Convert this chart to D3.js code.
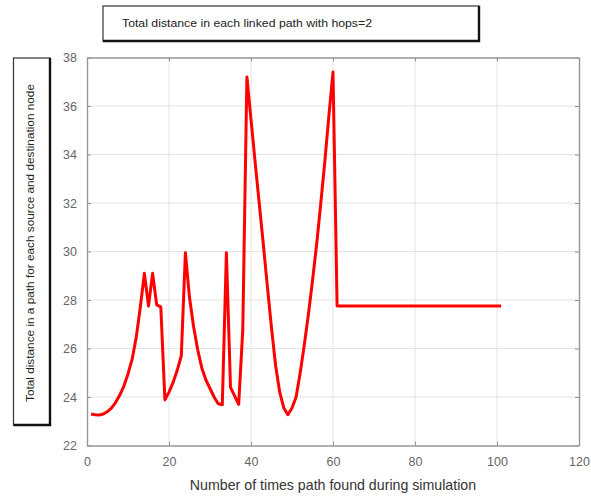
<!DOCTYPE html>
<html>
<head>
<meta charset="utf-8">
<script src="https://cdn.jsdelivr.net/npm/d3@7"></script>
<style>
  body { margin: 0; background: #fff; }
  svg { display: block; }
</style>
</head>
<body>
<div id="chart"></div>
<script>
// data
const pathCount = [1, 2, 3, 4, 5, 6, 7, 8, 9, 10,
  11, 12, 13, 14, 15, 16, 17, 18, 19, 20,
  21, 22, 23, 24, 25, 26, 27, 28, 29, 30,
  31, 32, 33, 34, 35, 36, 37, 38, 39, 40,
  41, 42, 43, 44, 45, 46, 47, 48, 49, 50,
  51, 52, 53, 54, 55, 56, 57, 58, 59, 60,
  61, 101];
const totalDistance = [23.30, 23.27, 23.26, 23.30, 23.40, 23.55, 23.78, 24.08, 24.45, 24.95,
  25.55, 26.45, 27.70, 29.10, 27.75, 29.10, 27.80, 27.72, 23.88, 24.20,
  24.60, 25.10, 25.70, 29.95, 28.10, 26.90, 25.95, 25.20, 24.70, 24.35,
  24.00, 23.72, 23.68, 29.95, 24.40, 24.05, 23.70, 26.80, 37.20, 35.45,
  33.70, 32.00, 30.30, 28.55, 26.85, 25.30, 24.20, 23.55, 23.27, 23.55,
  24.00, 25.00, 26.15, 27.40, 28.80, 30.28, 31.95, 33.70, 35.60, 37.40,
  27.75, 27.75];
const xTicks = [0, 20, 40, 60, 80, 100, 120];
const yTicks = [22, 24, 26, 28, 30, 32, 34, 36, 38];

const titleText = "Total distance in each linked path with hops=2";
const yLabelText = "Total distance in a path for each source and destination node";
const xLabelText = "Number of times path found during simulation";

const width = 591, height = 497;
const plot = { left: 87, right: 579, top: 57.5, bottom: 445.5 };

const svg = d3.select("#chart").append("svg")
  .attr("width", width)
  .attr("height", height);

const x = d3.scaleLinear().domain([0, 120]).range([plot.left, plot.right]);
const y = d3.scaleLinear().domain([22, 38]).range([plot.bottom, plot.top]);

// grid
svg.append("g")
  .selectAll("line")
  .data(xTicks.slice(1, -1))
  .join("line")
  .attr("x1", d => x(d)).attr("x2", d => x(d))
  .attr("y1", plot.top).attr("y2", plot.bottom)
  .attr("stroke", "#e3e3e3").attr("stroke-width", 1);

svg.append("g")
  .selectAll("line")
  .data(yTicks.slice(1, -1))
  .join("line")
  .attr("x1", plot.left).attr("x2", plot.right)
  .attr("y1", d => y(d)).attr("y2", d => y(d))
  .attr("stroke", "#e3e3e3").attr("stroke-width", 1);

// axes (MATLAB style box with inward ticks)
const tickLen = 4;
const axisStyle = g => {
  g.select(".domain").attr("stroke", "#969696").attr("stroke-width", 1.4);
  g.selectAll(".tick line").attr("stroke", "#969696");
  g.selectAll(".tick text")
    .attr("fill", "#666")
    .attr("font-family", "Liberation Sans, Arial, sans-serif")
    .attr("font-size", 12.5);
};

svg.append("g")
  .attr("transform", `translate(0,${plot.bottom})`)
  .call(d3.axisBottom(x).tickValues(xTicks).tickSizeInner(-tickLen).tickSizeOuter(0).tickPadding(12))
  .call(axisStyle);

svg.append("g")
  .attr("transform", `translate(0,${plot.top})`)
  .call(d3.axisTop(x).tickValues(xTicks).tickSizeInner(-tickLen).tickSizeOuter(0).tickFormat(""))
  .call(axisStyle);

svg.append("g")
  .attr("transform", `translate(${plot.left},0)`)
  .call(d3.axisLeft(y).tickValues(yTicks).tickSizeInner(-tickLen).tickSizeOuter(0).tickPadding(10))
  .call(axisStyle);

svg.append("g")
  .attr("transform", `translate(${plot.right},0)`)
  .call(d3.axisRight(y).tickValues(yTicks).tickSizeInner(-tickLen).tickSizeOuter(0).tickFormat(""))
  .call(axisStyle);

// the line
const points = pathCount.map((d, i) => [d, totalDistance[i]]);
svg.append("path")
  .datum(points)
  .attr("fill", "none")
  .attr("stroke", "#ff0000")
  .attr("stroke-width", 3)
  .attr("stroke-linejoin", "round")
  .attr("d", d3.line().x(d => x(d[0])).y(d => y(d[1])));

// x label
svg.append("text")
  .attr("x", 333).attr("y", 490)
  .attr("text-anchor", "middle")
  .attr("fill", "#333")
  .attr("font-family", "Liberation Sans, Arial, sans-serif")
  .attr("font-size", 14.2)
  .text(xLabelText);

// boxes with a heavier right / bottom edge, like the pasted labels
function labelBox(bx, by, bw, bh) {
  svg.append("rect")
    .attr("x", bx).attr("y", by).attr("width", bw).attr("height", bh)
    .attr("fill", "#fff").attr("stroke", "#333").attr("stroke-width", 1.2);
  svg.append("path")
    .attr("d", `M${bx + bw},${by} V${by + bh} H${bx}`)
    .attr("fill", "none").attr("stroke", "#111").attr("stroke-width", 2.4);
}

// title box
labelBox(103, 6, 376, 35);
svg.append("text")
  .attr("x", 122).attr("y", 27)
  .attr("fill", "#222")
  .attr("font-family", "Liberation Sans, Arial, sans-serif")
  .attr("font-size", 10.5)
  .attr("textLength", 250)
  .attr("lengthAdjust", "spacingAndGlyphs")
  .text(titleText);

// y label box
labelBox(13.5, 58, 36.5, 367);
svg.append("text")
  .attr("transform", "translate(34,243) rotate(-90)")
  .attr("text-anchor", "middle")
  .attr("fill", "#222")
  .attr("font-family", "Liberation Sans, Arial, sans-serif")
  .attr("font-size", 10)
  .attr("textLength", 318)
  .attr("lengthAdjust", "spacingAndGlyphs")
  .text(yLabelText);
</script>
</body>
</html>
